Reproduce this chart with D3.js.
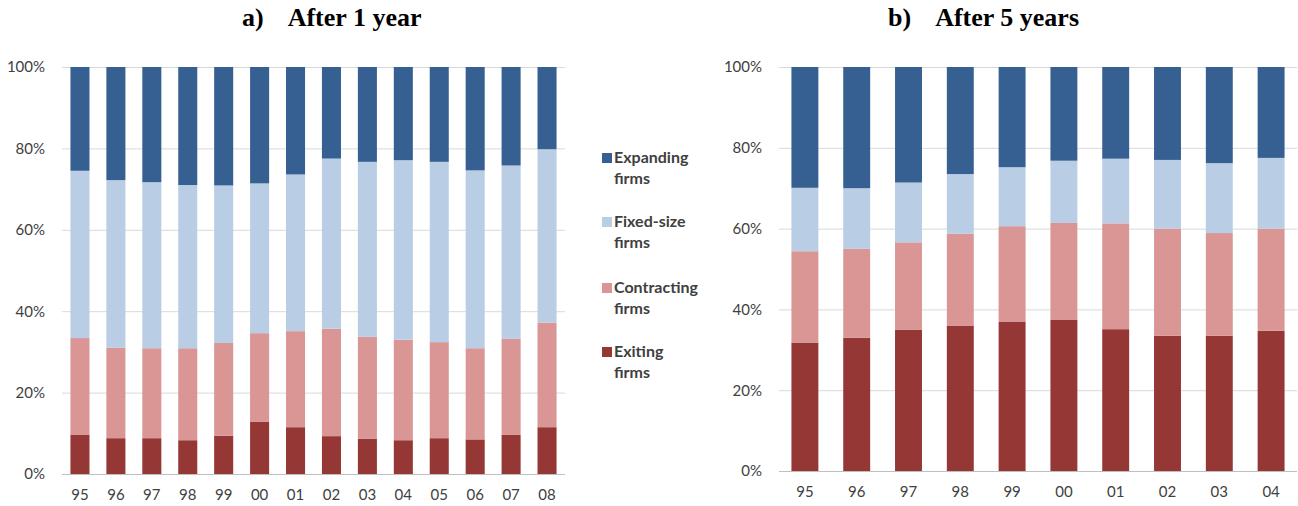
<!DOCTYPE html>
<html><head><meta charset="utf-8">
<script src="https://cdn.jsdelivr.net/npm/d3@7"></script>
<style>
body{margin:0;background:#fff;}
svg{display:block;}
.tick text{font-family:Lato,"Open Sans",sans-serif;font-size:15px;fill:#404040;}
</style></head>
<body><svg id="c" width="1298" height="506"></svg>
<script>
const seriesNames = ["Exiting firms","Contracting firms","Fixed-size firms","Expanding firms"];
const seriesKeys = ["exiting","contracting","fixed","expanding"];
const seriesColors = ["#953735","#d99694","#b9cde5","#376092"];

const categoriesA = ["95","96","97","98","99","00","01","02","03","04","05","06","07","08"];
const exitingA     = [9.7, 8.8, 8.8, 8.3, 9.4, 12.8, 11.5, 9.3, 8.7, 8.3, 8.8, 8.5, 9.6, 11.5];
const contractingA = [23.7, 22.2, 22.1, 22.6, 22.8, 21.8, 23.6, 26.4, 25.0, 24.7, 23.6, 22.4, 23.6, 25.7];
const fixedA       = [41.1, 41.2, 40.8, 40.1, 38.7, 36.8, 38.5, 41.8, 43.0, 44.1, 44.3, 43.7, 42.6, 42.6];
const expandingA   = [25.5, 27.8, 28.3, 29.0, 29.1, 28.6, 26.4, 22.5, 23.3, 22.9, 23.3, 25.4, 24.2, 20.2];

const categoriesB = ["95","96","97","98","99","00","01","02","03","04"];
const exitingB     = [31.8, 33.0, 35.0, 36.0, 37.0, 37.5, 35.1, 33.5, 33.5, 34.7];
const contractingB = [22.6, 22.0, 21.6, 22.7, 23.6, 23.9, 26.2, 26.5, 25.4, 25.3];
const fixedB       = [15.7, 15.0, 14.8, 14.8, 14.6, 15.4, 16.0, 17.0, 17.3, 17.5];
const expandingB   = [29.9, 30.0, 28.6, 26.5, 24.8, 23.2, 22.7, 23.0, 23.8, 22.5];

const yTicks = [0,20,40,60,80,100];

const svg = d3.select("#c");

function panel(cats, ex, co, fi, expd, x0, x1, yTop, yBot, pad, labelPad){
  const rows = cats.map((c,i)=>({cat:c, exiting:ex[i], contracting:co[i], fixed:fi[i], expanding:expd[i]}));
  const x = d3.scaleBand().domain(cats).range([x0,x1]).paddingInner(pad).paddingOuter(pad/2);
  const y = d3.scaleLinear().domain([0,100]).range([yBot,yTop]);
  const g = svg.append("g");
  const ya = g.append("g").attr("transform",`translate(${x0},0)`)
    .call(d3.axisLeft(y).tickValues(yTicks).tickFormat(d=>d+"%").tickSize(-(x1-x0)).tickPadding(17));
  ya.select(".domain").remove();
  ya.selectAll(".tick line").attr("stroke",d=>d===0?"#bfbfbf":"#d9d9d9").attr("stroke-width",1);
  const stack = d3.stack().keys(seriesKeys)(rows);
  stack.forEach((s,si)=>{
    g.append("g").attr("fill",seriesColors[si]).selectAll("rect").data(s).join("rect")
      .attr("x",d=>x(d.data.cat)).attr("width",x.bandwidth())
      .attr("y",d=>y(d[1])).attr("height",d=>y(d[0])-y(d[1]));
  });
  const xa = g.append("g").attr("transform",`translate(0,${yBot})`)
    .call(d3.axisBottom(x).tickSize(0).tickPadding(labelPad));
  xa.select(".domain").remove();
}

panel(categoriesA, exitingA, contractingA, fixedA, expandingA, 62, 565, 67, 474, 0.47, 15);
panel(categoriesB, exitingB, contractingB, fixedB, expandingB, 779, 1297, 67, 471, 0.48, 15);

function title(x, lab, txt){
  const t = svg.append("text").attr("x",x).attr("y",26)
    .attr("font-family","'Liberation Serif','Times New Roman',serif").attr("font-weight","bold")
    .attr("font-size",26).attr("fill","#000");
  t.append("tspan").text(lab);
  t.append("tspan").attr("dx",24).text(txt);
}
title(242,"a)","After 1 year");
title(888,"b)","After 5 years");

const legendOrder = [3,2,1,0];
const legendY = [158,222,288,352];
const lg = svg.append("g");
legendOrder.forEach((si,k)=>{
  const name = seriesNames[si].split(" ");
  lg.append("rect").attr("x",602).attr("y",legendY[k]-5).attr("width",10).attr("height",10).attr("fill",seriesColors[si]);
  const t = lg.append("text").attr("x",614).attr("y",legendY[k]+5)
    .attr("font-family","Lato,'Open Sans',sans-serif").attr("font-weight","bold")
    .attr("font-size",16).attr("fill","#404040");
  t.append("tspan").text(name[0]);
  t.append("tspan").attr("x",614).attr("dy",20.5).text(name[1]);
});
</script></body></html>
